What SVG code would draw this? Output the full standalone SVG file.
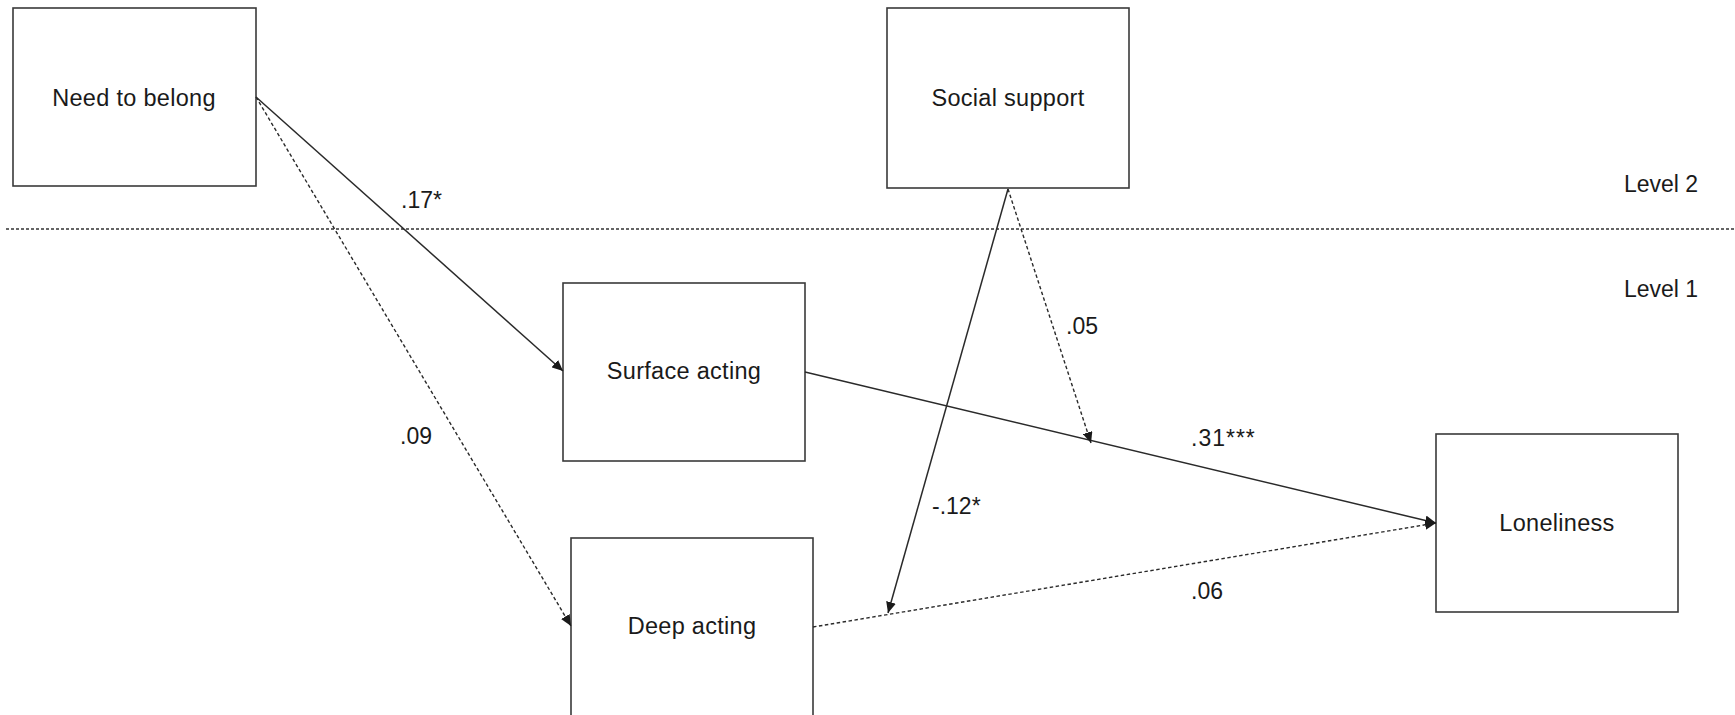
<svg xmlns="http://www.w3.org/2000/svg" width="1735" height="715" viewBox="0 0 1735 715">
<style>
.box{fill:#fff;stroke:#3a3a3a;stroke-width:1.6}
.lbl{font-family:"Liberation Sans",Arial,sans-serif;font-size:23px;fill:#1a1a1a}
.nt{font-family:"Liberation Sans",Arial,sans-serif;font-size:23.5px;letter-spacing:0.3px;fill:#1a1a1a;text-anchor:middle}
.solid{fill:none;stroke:#2a2a2a;stroke-width:1.5}
.dash{fill:none;stroke:#2a2a2a;stroke-width:1.4;stroke-dasharray:3.5 2.5}
</style>
<defs>
<marker id="arr" markerUnits="userSpaceOnUse" markerWidth="12" markerHeight="10" refX="11" refY="5" orient="auto">
<path d="M0,0 L11,5 L0,10 z" fill="#1a1a1a"/>
</marker>
</defs>
<rect width="1735" height="715" fill="#fff"/>
<line x1="6" y1="229" x2="1735" y2="229" stroke="#333" stroke-width="1.4" stroke-dasharray="3 2"/>
<text class="lbl" x="1624" y="192">Level 2</text>
<text class="lbl" x="1624" y="297">Level 1</text>
<g id="need"><rect class="box" x="13" y="8" width="243" height="178"/><text class="nt" x="134" y="106">Need to belong</text></g>
<g id="social"><rect class="box" x="887" y="8" width="242" height="180"/><text class="nt" x="1008" y="106">Social support</text></g>
<g id="surface"><rect class="box" x="563" y="283" width="242" height="178"/><text class="nt" x="684" y="379">Surface acting</text></g>
<g id="deep"><rect class="box" x="571" y="538" width="242" height="200"/><text class="nt" x="692" y="634">Deep acting</text></g>
<g id="loneliness"><rect class="box" x="1436" y="434" width="242" height="178"/><text class="nt" x="1557" y="531">Loneliness</text></g>
<g id="connectors">
<line class="solid" x1="256" y1="97" x2="563" y2="371" marker-end="url(#arr)"/>
<line class="dash" x1="256" y1="97" x2="571" y2="626" marker-end="url(#arr)"/>
<line class="solid" x1="805" y1="372" x2="1436" y2="523" marker-end="url(#arr)"/>
<line class="dash" x1="813" y1="627" x2="1436" y2="523" marker-end="url(#arr)"/>
<line class="solid" x1="1008" y1="189" x2="888" y2="613" marker-end="url(#arr)"/>
<line class="dash" x1="1008" y1="189" x2="1091" y2="443" marker-end="url(#arr)"/>
</g>
<g id="labels">
<text class="lbl" x="401" y="208">.17*</text>
<text class="lbl" x="400" y="444">.09</text>
<text class="lbl" x="1066" y="334">.05</text>
<text class="lbl" x="1191" y="446" letter-spacing="1">.31***</text>
<text class="lbl" x="1191" y="599">.06</text>
<text class="lbl" x="932" y="514">-.12*</text>
</g>
</svg>
